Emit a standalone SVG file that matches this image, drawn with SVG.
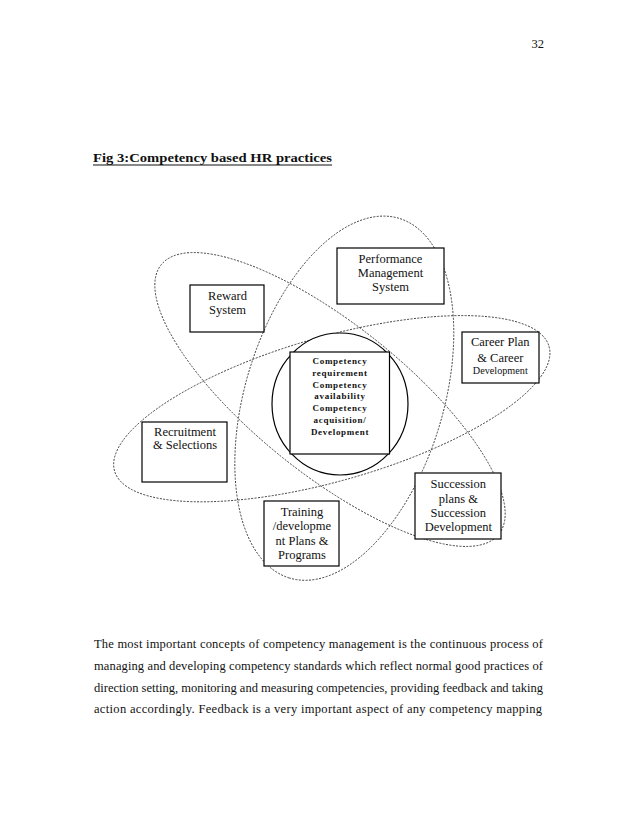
<svg xmlns="http://www.w3.org/2000/svg" width="638" height="826" viewBox="0 0 638 826">
<style>
  .bg{fill:#ffffff}
  .orbit{fill:none;stroke:#3a3a3a;stroke-width:0.9;stroke-dasharray:2 1.4}
  .box{fill:#ffffff;stroke:#000;stroke-width:1.2}
  .lbl{font-family:"Liberation Serif","Times New Roman",serif;font-size:12.5px;fill:#111;text-anchor:middle}
  .small{font-size:10.2px}
  .core{font-family:"Liberation Serif","Times New Roman",serif;font-size:9px;font-weight:bold;letter-spacing:0.7px;fill:#111;text-anchor:middle}
  .body{font-family:"Liberation Serif","Times New Roman",serif;font-size:12.5px;fill:#111}
  .title{font-family:"Liberation Serif","Times New Roman",serif;font-size:13.5px;font-weight:bold;fill:#111}
</style>
<rect class="bg" x="0" y="0" width="638" height="826"/>

<text class="body" x="544" y="48" text-anchor="end">32</text>

<g id="title">
  <text class="title" x="93" y="162" textLength="239" lengthAdjust="spacingAndGlyphs">Fig 3:Competency based HR practices</text>
  <line x1="93" y1="165" x2="332" y2="165" stroke="#111" stroke-width="1"/>
</g>

<g id="connectors">
  <ellipse class="orbit" cx="330" cy="399.5" rx="216" ry="75" transform="rotate(38.6 330 399.5)"/>
  <ellipse class="orbit" cx="344.3" cy="398.2" rx="188" ry="99" transform="rotate(107 344.3 398.2)"/>
  <ellipse class="orbit" cx="331.8" cy="408.7" rx="226" ry="72" transform="rotate(-16 331.8 408.7)"/>
</g>

<g id="core">
  <ellipse cx="340" cy="404" rx="68" ry="71" fill="#fff" stroke="#000" stroke-width="1.2"/>
  <rect class="box" x="290" y="352" width="99.5" height="102"/>
  <text class="core" x="340" y="364">Competency</text>
  <text class="core" x="340" y="375.8">requirement</text>
  <text class="core" x="340" y="387.6">Competency</text>
  <text class="core" x="340" y="399.4">availability</text>
  <text class="core" x="340" y="411.2">Competency</text>
  <text class="core" x="340" y="423">acquisition/</text>
  <text class="core" x="340" y="434.8">Development</text>
</g>

<g id="reward">
  <rect class="box" x="190" y="285" width="74" height="47"/>
  <text class="lbl" x="227.5" y="300">Reward</text>
  <text class="lbl" x="227.5" y="314.3">System</text>
</g>

<g id="performance">
  <rect class="box" x="337" y="248" width="107" height="56"/>
  <text class="lbl" x="390.5" y="263.3">Performance</text>
  <text class="lbl" x="390.5" y="277.3">Management</text>
  <text class="lbl" x="390.5" y="290.7">System</text>
</g>

<g id="career">
  <rect class="box" x="462" y="332" width="77" height="51"/>
  <text class="lbl" x="500.3" y="346.3">Career Plan</text>
  <text class="lbl" x="500.3" y="361.5">&amp; Career</text>
  <text class="lbl small" x="500.3" y="373.5">Development</text>
</g>

<g id="recruitment">
  <rect class="box" x="142" y="422" width="85" height="60"/>
  <text class="lbl" x="185" y="436">Recruitment</text>
  <text class="lbl" x="185" y="449.3">&amp; Selections</text>
</g>

<g id="succession">
  <rect class="box" x="415" y="473" width="86" height="66"/>
  <text class="lbl" x="458.3" y="488.3">Succession</text>
  <text class="lbl" x="458.3" y="502.7">plans &amp;</text>
  <text class="lbl" x="458.3" y="516.7">Succession</text>
  <text class="lbl" x="458.3" y="530.7">Development</text>
</g>

<g id="training">
  <rect class="box" x="264" y="501" width="75" height="65"/>
  <text class="lbl" x="302" y="516">Training</text>
  <text class="lbl" x="302" y="530">/developme</text>
  <text class="lbl" x="302" y="544.5">nt Plans &amp;</text>
  <text class="lbl" x="302" y="558.5">Programs</text>
</g>

<g id="paragraph">
  <text class="body" x="94" y="648.3" textLength="449" lengthAdjust="spacing">The most important concepts of competency management is the continuous process of</text>
  <text class="body" x="94" y="670" textLength="449" lengthAdjust="spacing">managing and developing competency standards which reflect normal good practices of</text>
  <text class="body" x="94" y="691.7" textLength="449" lengthAdjust="spacing">direction setting, monitoring and measuring competencies, providing feedback and taking</text>
  <text class="body" x="94" y="712.7" textLength="448" lengthAdjust="spacing">action accordingly. Feedback is a very important aspect of any competency mapping</text>
</g>
</svg>
